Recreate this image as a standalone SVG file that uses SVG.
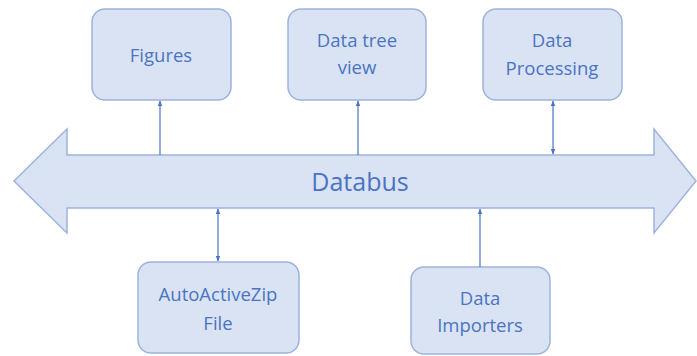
<svg xmlns="http://www.w3.org/2000/svg" width="697" height="356" viewBox="0 0 697 356">
<style>
.box{fill:#dae3f3;stroke:#9db3dd;stroke-width:1.5}
.t{font-family:"Open Sans","Liberation Sans",sans-serif;font-size:18.5px;fill:#4a74c2;text-anchor:middle}
.c{stroke:#4a74c2;stroke-width:1.2;fill:none}
</style>
<defs>
<marker id="ah" viewBox="0 0 10 10" refX="9" refY="5" markerWidth="6" markerHeight="6" markerUnits="userSpaceOnUse" orient="auto-start-reverse">
<path d="M0,1 L10,5 L0,9 z" fill="#4a74c2"/>
</marker>
</defs>
<g id="databus">
<path class="box" d="M14,181 L67,129 L67,155 L654,155 L654,129 L696,181 L654,233 L654,208 L67,208 L67,233 Z"/>
<text class="t" x="360" y="191" style="font-size:25px">Databus</text>
</g>
<g id="figures">
<rect class="box" x="92" y="9" width="139" height="91" rx="13"/>
<text class="t" x="161" y="62">Figures</text>
</g>
<g id="datatree">
<rect class="box" x="288" y="9" width="138" height="91" rx="13"/>
<text class="t" x="357" y="47">Data tree</text>
<text class="t" x="357" y="74">view</text>
</g>
<g id="processing">
<rect class="box" x="483" y="9" width="139" height="91" rx="13"/>
<text class="t" x="552" y="47">Data</text>
<text class="t" x="552" y="75">Processing</text>
</g>
<g id="zip">
<rect class="box" x="138" y="262" width="161" height="91" rx="13"/>
<text class="t" x="218" y="301">AutoActiveZip</text>
<text class="t" x="218" y="330">File</text>
</g>
<g id="importers">
<rect class="box" x="411" y="267" width="139" height="87" rx="13"/>
<text class="t" x="480" y="305">Data</text>
<text class="t" x="480" y="332">Importers</text>
</g>
<g id="connectors">
<line class="c" x1="160" y1="155" x2="160" y2="101" marker-end="url(#ah)"/>
<line class="c" x1="358" y1="155" x2="358" y2="101" marker-end="url(#ah)"/>
<line class="c" x1="553" y1="101" x2="553" y2="154" marker-start="url(#ah)" marker-end="url(#ah)"/>
<line class="c" x1="218" y1="209" x2="218" y2="261" marker-start="url(#ah)" marker-end="url(#ah)"/>
<line class="c" x1="480" y1="267" x2="480" y2="209" marker-end="url(#ah)"/>
</g>
</svg>
